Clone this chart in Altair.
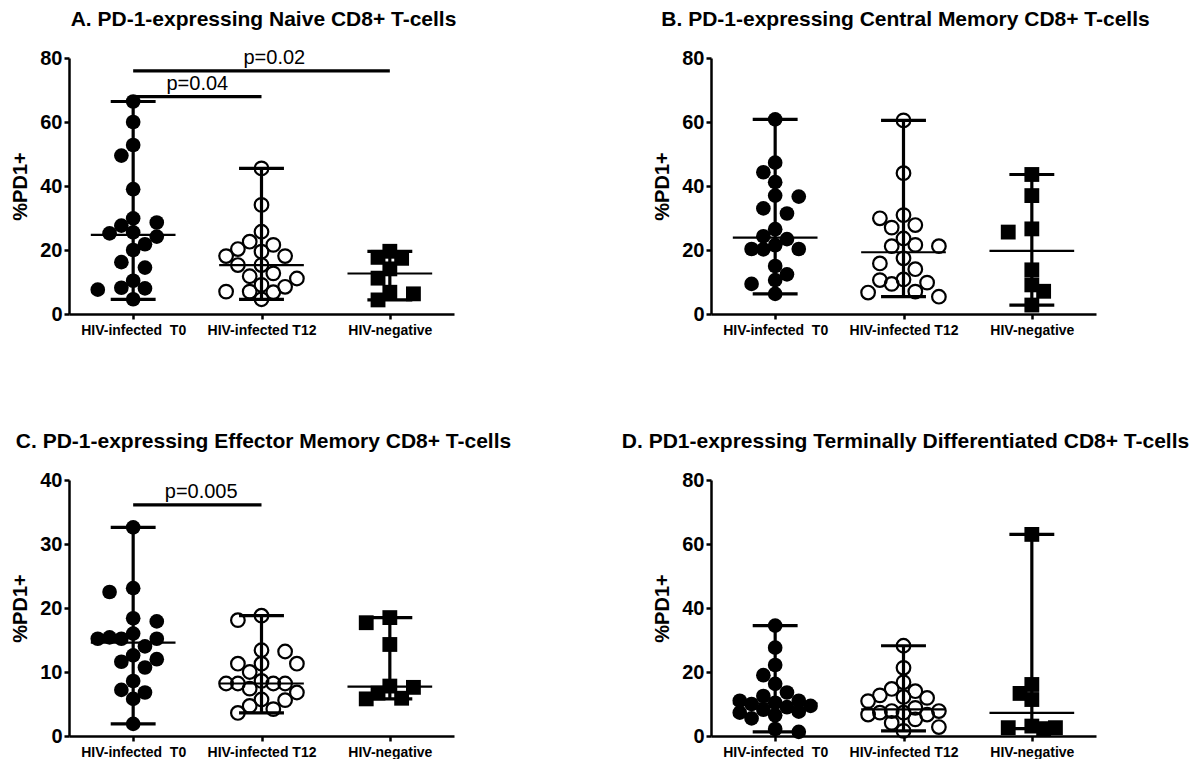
import altair as alt
import pandas as pd

FONT = "Liberation Sans"

categories = ["HIV-infected\u00a0 T0", "HIV-infected T12", "HIV-negative"]

# Panel A: PD-1-expressing Naive CD8+ T-cells (%PD1+)
a_t0 = [66.4, 60.0, 52.8, 49.5, 39.0, 29.9, 28.6, 27.6, 25.5, 25.2,
        24.2, 21.8, 20.0, 16.2, 14.5, 10.4, 8.2, 8.0, 7.6, 4.6]
a_t12 = [45.5, 34.1, 25.7, 22.6, 21.6, 20.3, 19.5, 18.1, 18.1, 15.3,
         15.3, 12.7, 11.8, 11.1, 9.1, 8.5, 7.0, 7.0, 6.8, 4.6]
a_neg = [19.6, 17.4, 17.7, 14.1, 11.2, 6.8, 6.3, 4.4]

# Panel B: Central Memory
b_t0 = [60.8, 47.3, 44.3, 41.2, 37.0, 36.7, 33.0, 31.4, 26.5, 24.3,
        23.4, 21.5, 20.3, 20.3, 20.2, 15.0, 12.4, 10.6, 9.4, 6.3]
b_t12 = [60.5, 44.0, 30.9, 29.9, 27.8, 27.0, 23.6, 21.6, 21.2, 21.2,
         17.4, 15.8, 14.0, 10.8, 10.6, 9.8, 9.4, 7.0, 6.7, 5.4]
b_neg = [43.6, 37.0, 26.6, 25.6, 13.8, 9.1, 7.1, 2.8]

# Panel C: Effector Memory
c_t0 = [32.6, 23.1, 22.5, 18.4, 17.9, 16.0, 15.4, 15.2, 15.2, 15.2,
        14.0, 12.6, 12.0, 11.6, 10.7, 8.6, 7.2, 6.8, 5.8, 1.9]
c_t12 = [18.8, 18.1, 13.4, 13.2, 11.3, 11.3, 11.3, 10.0, 8.6, 8.2,
         8.2, 8.2, 8.2, 7.4, 6.8, 5.7, 5.6, 4.7, 4.2, 3.6]
c_neg = [18.5, 17.7, 14.3, 7.8, 7.6, 6.7, 5.8, 5.9]

# Panel D: Terminally Differentiated
d_t0 = [34.5, 27.6, 22.2, 19.0, 16.3, 13.6, 12.5, 11.0, 11.0, 10.4,
        10.0, 9.4, 9.0, 8.2, 7.6, 7.3, 6.5, 5.5, 2.2, 1.3]
d_t12 = [28.2, 21.3, 16.8, 14.7, 14.0, 12.7, 12.2, 11.9, 10.9, 8.8,
         7.8, 7.8, 7.3, 7.3, 6.7, 6.7, 5.2, 4.1, 2.8, 1.6]
d_neg = [63.0, 16.1, 13.3, 11.4, 3.1, 2.6, 2.6, 2.3]

titles = [
    "A. PD-1-expressing Naive CD8+ T-cells",
    "B. PD-1-expressing Central Memory CD8+ T-cells",
    "C. PD-1-expressing Effector Memory CD8+ T-cells",
    "D. PD1-expressing Terminally Differentiated CD8+ T-cells",
]

# significance annotations (text, from group, to group, bar value, text position)
a_sig_text = ["p=0.04", "p=0.02"]
a_sig_from = [0, 0]
a_sig_to = [1, 2]
a_sig_y = [67.9, 76.0]
a_sig_tx = [0.5, 1.1]

c_sig_text = ["p=0.005"]
c_sig_from = [0]
c_sig_to = [1]
c_sig_y = [36.1]
c_sig_tx = [0.53]

W, H = 385, 256
STEP_PX = 11.8
DIAM_PX = 13.0
MAX_COL = 3


def swarm(values, px_per_unit):
    """Deterministic beeswarm on discrete columns (max +-3), least-overlap placement."""
    order = sorted(range(len(values)), key=lambda i: -values[i])
    placed = []
    offs = [0] * len(values)
    for i in order:
        y = values[i] * px_per_unit
        left = sum(1 for c, _ in placed if c < 0)
        right = sum(1 for c, _ in placed if c > 0)
        cands = [0]
        for k in range(1, MAX_COL + 1):
            cands += [-k, k] if left <= right else [k, -k]
        best, best_pen = 0, None
        for c in cands:
            pen = 0.0
            for pc, py in placed:
                dx = (c - pc) * STEP_PX
                dy = y - py
                d = (dx * dx + dy * dy) ** 0.5
                pen = max(pen, DIAM_PX - d)
            if pen <= 0:
                best = c
                break
            if best_pen is None or pen < best_pen - 1e-9:
                best, best_pen = c, pen
        placed.append((best, y))
        offs[i] = best
    return offs


def make_panel(groups, title, ymax, yticks, sig=None):
    px_per_unit = H / ymax
    step_units = STEP_PX / (W / 3.0)
    rows = []
    for idx, vals in enumerate(groups):
        offs = swarm(vals, px_per_unit)
        for v, o in zip(vals, offs):
            rows.append({"idx": idx, "value": v, "xpos": idx + o * step_units})
    df = pd.DataFrame(rows)

    xscale = alt.Scale(domain=[-0.5, 2.5], nice=False, zero=False)
    yscale = alt.Scale(domain=[0, ymax], nice=False)
    label_expr = "[" + ",".join("'" + c + "'" for c in categories) + "][datum.value]"

    xaxis = alt.Axis(values=[0, 1, 2], labelExpr=label_expr, title=None,
                     labelFont=FONT, labelFontSize=14, labelFontWeight="bold",
                     labelColor="black", domainColor="black", tickColor="black",
                     domainWidth=2.5, tickWidth=2.5, tickSize=5, labelPadding=4,
                     grid=False, labelAngle=0)
    yaxis = alt.Axis(values=yticks, title="%PD1+", titleFont=FONT, titleFontSize=20,
                     titleFontWeight="bold", titleColor="black",
                     labelFont=FONT, labelFontSize=20, labelFontWeight="bold",
                     labelColor="black", domainColor="black", tickColor="black",
                     domainWidth=2.5, tickWidth=2.5, tickSize=5, labelPadding=2,
                     grid=False, titleX=-49, titleY=H / 2, titleAngle=-90,
                     titleAlign="center", titleBaseline="middle")

    def X(field):
        return alt.X(field, type="quantitative", scale=xscale, axis=xaxis)

    def Y(field):
        return alt.Y(field, type="quantitative", scale=yscale, axis=yaxis)

    base = alt.Chart(df)
    filled = base.transform_filter("datum.idx == 0").mark_circle(
        size=215, color="black", opacity=1).encode(x=X("xpos"), y=Y("value"))
    hollow = base.transform_filter("datum.idx == 1").mark_point(
        shape="circle", filled=False, size=185, strokeWidth=2.2, color="black",
        opacity=1).encode(x=X("xpos"), y=Y("value"))
    squares = base.transform_filter("datum.idx == 2").mark_square(
        size=220, color="black", opacity=1).encode(x=X("xpos"), y=Y("value"))

    stats = base.transform_aggregate(
        vmin="min(value)", vmax="max(value)", vmed="median(value)", groupby=["idx"]
    ).transform_calculate(
        c1="datum.idx - 0.175", c2="datum.idx + 0.175",
        m1="datum.idx - 0.33", m2="datum.idx + 0.33")
    vline = stats.mark_rule(color="black", strokeWidth=3.2).encode(
        x=X("idx"), y=Y("vmin"), y2="vmax:Q")
    cap_top = stats.mark_rule(color="black", strokeWidth=3.2).encode(
        x=X("c1"), x2="c2:Q", y=Y("vmax"))
    cap_bot = stats.mark_rule(color="black", strokeWidth=3.2).encode(
        x=X("c1"), x2="c2:Q", y=Y("vmin"))
    med = stats.mark_rule(color="black", strokeWidth=2.2).encode(
        x=X("m1"), x2="m2:Q", y=Y("vmed"))

    tdf = pd.DataFrame({"t": [title]})
    ttl = alt.Chart(tdf).mark_text(
        font=FONT, fontSize=21, fontWeight="bold", color="black",
        align="center", baseline="alphabetic").encode(
        text="t:N", x=alt.value(W / 2 + 2), y=alt.value(-32))

    layers = [filled, hollow, squares, vline, cap_top, cap_bot, med, ttl]

    if sig is not None:
        sdf = pd.DataFrame({"text": sig[0], "x1": sig[1], "x2": sig[2],
                            "y": sig[3], "tx": sig[4]})
        sbase = alt.Chart(sdf)
        bars = sbase.mark_rule(color="black", strokeWidth=3.3).encode(
            x=X("x1"), x2="x2:Q", y=Y("y"))
        texts = sbase.mark_text(font=FONT, fontSize=20, color="black",
                                baseline="alphabetic", dy=-7).encode(
            x=X("tx"), y=Y("y"), text="text:N")
        layers += [bars, texts]

    return alt.layer(*layers).properties(width=W, height=H)


pa = make_panel([a_t0, a_t12, a_neg], titles[0], 80, [0, 20, 40, 60, 80],
                (a_sig_text, a_sig_from, a_sig_to, a_sig_y, a_sig_tx))
pb = make_panel([b_t0, b_t12, b_neg], titles[1], 80, [0, 20, 40, 60, 80])
pc = make_panel([c_t0, c_t12, c_neg], titles[2], 40, [0, 10, 20, 30, 40],
                (c_sig_text, c_sig_from, c_sig_to, c_sig_y, c_sig_tx))
pd_ = make_panel([d_t0, d_t12, d_neg], titles[3], 80, [0, 20, 40, 60, 80])

chart = alt.concat(pa, pb, pc, pd_, columns=2,
                   spacing={"row": 166, "column": 257}, bounds="flush").properties(
    padding={"left": 10, "top": 9, "right": 0, "bottom": 0},
    background="white",
).configure_view(stroke=None)

chart.save("out.html", embed_options={"renderer": "svg", "actions": False})
